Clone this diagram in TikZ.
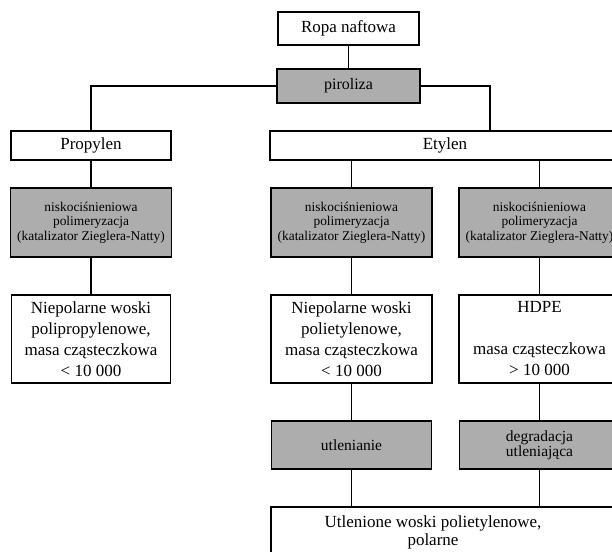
\documentclass[tikz,border=0pt]{standalone}
\usepackage{fontspec}
\setmainfont{Liberation Serif}

\begin{document}
\begin{tikzpicture}[x=1pt,y=-1pt,line width=1.1pt,
  box/.style={draw=black, fill=white, align=center, inner sep=0pt, font=\fontsize{17}{21}\selectfont},
  proc/.style={draw=black, fill=black!32, align=center, inner sep=0pt, font=\fontsize{15.5}{15}\selectfont},
  poly/.style={proc, font=\fontsize{13.4}{14.5}\selectfont}]

\useasboundingbox (0,0) rectangle (612,551);
\clip (0,0) rectangle (612,551);

\node[box, minimum width=141, minimum height=33] (ropa) at (348.5,28.5) {Ropa naftowa};
\node[proc, minimum width=143, minimum height=34, font=\fontsize{16}{16}\selectfont] (piro) at (348.5,86) {piroliza};
\node[box, minimum width=160, minimum height=29] (prop) at (91,145.5) {Propylen};
\node[box, minimum width=350, minimum height=29] (etyl) at (445,145.5) {Etylen};

\node[poly, minimum width=161, minimum height=69] (poly1) at (91,222.5) {niskociśnieniowa\\polimeryzacja\\(katalizator Zieglera-Natty)};
\node[poly, minimum width=161, minimum height=69] (poly2) at (351.5,222.5) {niskociśnieniowa\\polimeryzacja\\(katalizator Zieglera-Natty)};
\node[poly, minimum width=161, minimum height=69] (poly3) at (539.5,222.5) {niskociśnieniowa\\polimeryzacja\\(katalizator Zieglera-Natty)};

\node[box, minimum width=159, minimum height=88] (res1) at (91,339) {Niepolarne woski\\polipropylenowe,\\masa cząsteczkowa\\< 10 000};
\node[box, minimum width=161, minimum height=88] (res2) at (351.5,339) {Niepolarne woski\\polietylenowe,\\masa cząsteczkowa\\< 10 000};
\node[box, minimum width=161, minimum height=88] (res3) at (539.5,339) {HDPE\\[21pt]masa cząsteczkowa\\> 10 000};

\node[proc, minimum width=160, minimum height=48] (utl) at (351.5,445) {utlenianie};
\node[proc, minimum width=160, minimum height=48] (degr) at (539.5,445) {degradacja\\utleniająca};

\node[box, draw=none, fill=none, minimum width=320, anchor=north, inner ysep=8pt, font=\fontsize{17}{18}\selectfont] (fin) at (433,507) {Utlenione woski polietylenowe,\\polarne};
\draw (fin.north west -| utl.west) rectangle ++(380,90);

\draw (ropa.south) -- (piro.north);
\draw (piro.west) -| (prop.north);
\draw (piro.east) -| ([xshift=45pt]etyl.north);
\draw (prop.south) -- (poly1.north);
\draw (etyl.south -| poly2.north) -- (poly2.north);
\draw (etyl.south -| poly3.north) -- (poly3.north);
\draw (poly1.south) -- (res1.north);
\draw (poly2.south) -- (res2.north);
\draw (poly3.south) -- (res3.north);
\draw (res2.south -| utl.north) -- (utl.north);
\draw (res3.south -| degr.north) -- (degr.north);
\draw (utl.south) -- (utl.south |- fin.north);
\draw (degr.south) -- (degr.south |- fin.north);
\end{tikzpicture}
\end{document}
